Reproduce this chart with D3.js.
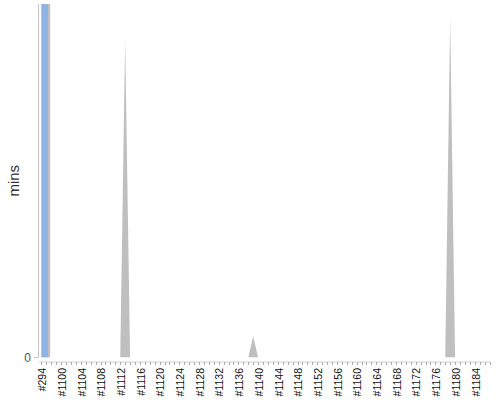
<!DOCTYPE html>
<html>
<head>
<meta charset="utf-8">
<script src="https://cdn.jsdelivr.net/npm/d3@7"></script>
<style>
  body { margin: 0; background: #fff; }
  svg { display: block; font-family: "Liberation Sans", Arial, sans-serif; }
</style>
</head>
<body>
<svg width="500" height="400"></svg>
<script>
// builds on the x axis, in order
let builds = [
  "#294", "#1097", "#1098", "#1099", "#1100", "#1101", "#1102", "#1103",
  "#1104", "#1105", "#1106", "#1107", "#1108", "#1109", "#1110", "#1111",
  "#1112", "#1113", "#1114", "#1115", "#1116", "#1117", "#1118", "#1119",
  "#1120", "#1121", "#1122", "#1123", "#1124", "#1125", "#1126", "#1127",
  "#1128", "#1129", "#1130", "#1131", "#1132", "#1133", "#1134", "#1135",
  "#1136", "#1137", "#1138", "#1139", "#1140", "#1141", "#1142", "#1143",
  "#1144", "#1145", "#1146", "#1147", "#1148", "#1149", "#1150", "#1151",
  "#1152", "#1153", "#1154", "#1155", "#1156", "#1157", "#1158", "#1159",
  "#1160", "#1161", "#1162", "#1163", "#1164", "#1165", "#1166", "#1167",
  "#1168", "#1169", "#1170", "#1171", "#1172", "#1173", "#1174", "#1175",
  "#1176", "#1177", "#1178", "#1179", "#1180", "#1181", "#1182", "#1183",
  "#1184", "#1185", "#1186", "#1187"
];

// duration in minutes, one per build (first one is off the scale)
let mins = [
  2.5, 0, 0, 0, 0, 0, 0, 0,
  0, 0, 0, 0, 0, 0, 0, 0,
  0, 0.9, 0, 0, 0, 0, 0, 0,
  0, 0, 0, 0, 0, 0, 0, 0,
  0, 0, 0, 0, 0, 0, 0, 0,
  0, 0, 0, 0.06, 0, 0, 0, 0,
  0, 0, 0, 0, 0, 0, 0, 0,
  0, 0, 0, 0, 0, 0, 0, 0,
  0, 0, 0, 0, 0, 0, 0, 0,
  0, 0, 0, 0, 0, 0, 0, 0,
  0, 0, 0, 0.96, 0, 0, 0, 0,
  0, 0, 0, 0
];

let tickLabels = [
  "#294", "#1100", "#1104", "#1108", "#1112", "#1116", "#1120", "#1124",
  "#1128", "#1132", "#1136", "#1140", "#1144", "#1148", "#1152", "#1156",
  "#1160", "#1164", "#1168", "#1172", "#1176", "#1180", "#1184"
];
let yTicks = [0];

let svg = d3.select("svg");

let plotLeft = 39, plotRight = 492, plotTop = 4, plotBottom = 357.5;

let xScale = d3.scalePoint()
  .domain(builds)
  .range([plotLeft, plotRight])
  .padding(0.5);
let step = xScale.step();

let yScale = d3.scaleLinear()
  .domain([0, 1])
  .range([plotBottom, plotTop]);

svg.append("clipPath").attr("id", "plot")
  .append("rect")
  .attr("x", plotLeft).attr("y", plotTop)
  .attr("width", plotRight - plotLeft).attr("height", plotBottom - plotTop);

let plot = svg.append("g").attr("clip-path", "url(#plot)");

// the long first build drawn as a bar
let first = builds[0];
plot.append("rect")
  .attr("x", xScale(first))
  .attr("y", yScale(mins[0]))
  .attr("width", step * 1.77)
  .attr("height", plotBottom - yScale(mins[0]))
  .style("fill", "#bfbfbf");
plot.append("rect")
  .attr("x", xScale(first))
  .attr("y", yScale(mins[0]))
  .attr("width", step * 1.32)
  .attr("height", plotBottom - yScale(mins[0]))
  .style("fill", "#8fb4e3");

// the rest of the builds as a grey area
let rest = builds.slice(1).map((b, i) => ({ build: b, value: mins[i + 1] }));
let area = d3.area()
  .x(d => xScale(d.build))
  .y0(plotBottom)
  .y1(d => yScale(d.value));
plot.append("path")
  .datum(rest)
  .attr("d", area)
  .style("fill", "#bfbfbf");

// y axis
svg.append("line")
  .attr("x1", plotLeft - 0.5).attr("x2", plotLeft - 0.5)
  .attr("y1", plotTop).attr("y2", plotBottom)
  .style("stroke", "#c4c4c4");

let yAxis = svg.append("g");
yAxis.selectAll("line")
  .data(yTicks)
  .enter()
  .append("line")
  .attr("x1", plotLeft - 5).attr("x2", plotLeft - 1)
  .attr("y1", d => yScale(d)).attr("y2", d => yScale(d))
  .style("stroke", "#c4c4c4");
yAxis.selectAll("text")
  .data(yTicks)
  .enter()
  .append("text")
  .attr("x", plotLeft - 8)
  .attr("y", d => yScale(d))
  .attr("dy", "0.35em")
  .attr("text-anchor", "end")
  .style("font-size", "12px")
  .style("fill", "#555")
  .text(d => d);

svg.append("text")
  .attr("transform", "translate(19," + ((plotTop + plotBottom) / 2) + ") rotate(-90)")
  .attr("text-anchor", "middle")
  .style("font-size", "15px")
  .style("fill", "#333")
  .text("mins");

// x axis, offset a little below the plot
let axisY = plotBottom + 4.5;
svg.append("line")
  .attr("x1", plotLeft).attr("x2", plotRight - 2)
  .attr("y1", axisY).attr("y2", axisY)
  .style("stroke", "#d0d0d0");

svg.append("g")
  .selectAll("line")
  .data(builds)
  .enter()
  .append("line")
  .attr("x1", d => Math.round(xScale(d)) + 0.5)
  .attr("x2", d => Math.round(xScale(d)) + 0.5)
  .attr("y1", axisY).attr("y2", axisY + 3)
  .style("stroke", "#aaa");

svg.append("g")
  .selectAll("text")
  .data(tickLabels)
  .enter()
  .append("text")
  .attr("transform", d => "translate(" + xScale(d) + "," + (axisY + 6) + ") rotate(-90)")
  .attr("dy", "0.45em")
  .attr("text-anchor", "end")
  .style("font-size", "10.5px")
  .style("fill", "#111")
  .text(d => d);
</script>
</body>
</html>
